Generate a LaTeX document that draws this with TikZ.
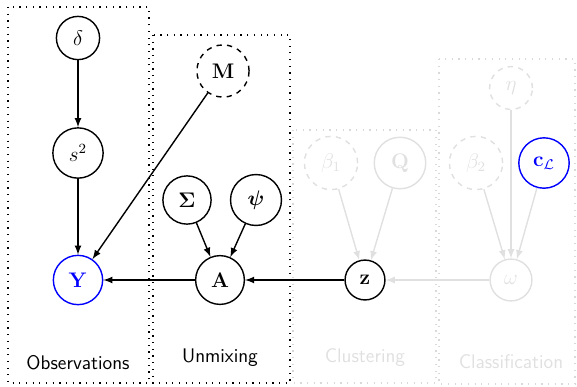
\documentclass[tikz,border=0pt]{standalone}
\usepackage{amsmath,amssymb,bm}
\tikzset{
  every node/.style={font=\fontsize{12}{14}\selectfont},
  var/.style={shape=circle,draw,thick,inner sep=5.2pt},
  hidden/.style={var,dashed},
  faded/.style={draw=black!12,text=black!12},
  blk/.style={line width=0.7pt,dash pattern=on 0.7pt off 3.1pt},
  lbl/.style={font=\fontsize{11.2}{13.5}\selectfont\sffamily},
}
\begin{document}
\begin{tikzpicture}[x=0.02cm,y=-0.02cm,>=latex]
\useasboundingbox (0,0) rectangle (577,386);

% blocks
\draw[blk] (8,7) rectangle (149,383);
\draw[blk] (153,35) rectangle (290,383);
\draw[blk,black!15] (293,130) rectangle (436,383);
\draw[blk,black!15] (439,59) rectangle (575,384);

\node[lbl] (obs) at (78,363) {Observations};
\node[lbl] (unmix) at (220,358) {Unmixing};
\node[lbl,text=black!12] (clust) at (365,358) {Clustering};
\node[lbl,text=black!12] (class) at (511,362) {Classification};

% variables
\node[var] (delta) at (78,38) {$\delta$};
\node[var] (s) at (78,153) {$s^2$};
\node[var,draw=blue,text=blue] (Y) at (78,280) {$\mathbf{Y}$};
\node[hidden] (M) at (223,71) {$\mathbf{M}$};
\node[var] (Sigma) at (187,200) {$\boldsymbol{\Sigma}$};
\node[var] (psi) at (256,200) {$\boldsymbol{\psi}$};
\node[var] (A) at (220,280) {$\mathbf{A}$};
\node[var] (z) at (365,280) {$\mathbf{z}$};
\node[hidden,faded] (beta1) at (331,163) {$\beta_1$};
\node[var,faded] (Q) at (400,163) {$\mathbf{Q}$};
\node[hidden,faded] (eta) at (511,88) {$\eta$};
\node[hidden,faded] (beta2) at (476,163) {$\beta_2$};
\node[var,draw=blue,text=blue] (cL) at (544,163) {$\mathbf{c}_{\mathcal{L}}$};
\node[var,faded] (omega) at (511,280) {$\omega$};

\draw[->,thick] (delta)--(s);
\draw[->,thick] (s)--(Y);
\draw[->,thick] (M)--(Y);
\draw[->,thick] (Sigma)--(A);
\draw[->,thick] (psi)--(A);
\draw[->,thick] (A)--(Y);
\draw[->,thick] (z)--(A);
\draw[->,thick,black!12] (beta1)--(z);
\draw[->,thick,black!12] (Q)--(z);
\draw[->,thick,black!12] (omega)--(z);
\draw[->,thick,black!12] (eta)--(omega);
\draw[->,thick,black!12] (beta2)--(omega);
\draw[->,thick,black!12] (cL)--(omega);
\end{tikzpicture}
\end{document}
